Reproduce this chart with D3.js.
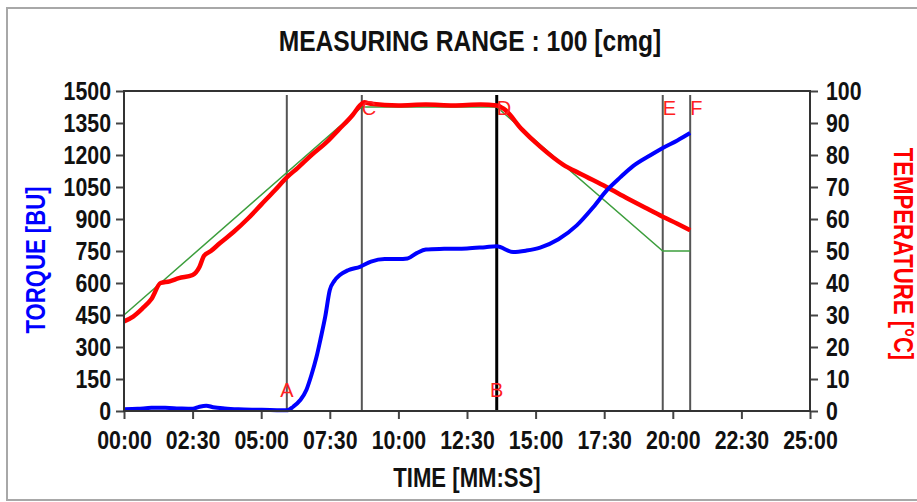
<!DOCTYPE html>
<html>
<head>
<meta charset="utf-8">
<script src="https://cdn.jsdelivr.net/npm/d3@7"></script>
<style>
  body { margin: 0; background: #fff; }
  svg text { font-family: "Liberation Sans", Arial, sans-serif; }
</style>
</head>
<body>
<div class="chart"></div>
<script>
// Time in seconds
const tempTime = [0, 20, 40, 60, 80, 100, 120, 150, 165, 175, 190, 210, 240, 270, 300, 330, 356, 380, 410, 443, 470, 500, 516, 525, 540, 600, 660, 720, 780, 815, 830, 870, 910, 960, 1000, 1055, 1100, 1140, 1178, 1210, 1238];
const tempValues = [28, 29.5, 32, 35, 40, 40.5, 41.5, 42.5, 45, 48.5, 50, 52.5, 56, 60, 64.5, 69, 73, 76, 80, 84, 88, 92.5, 95.5, 96.5, 96, 95.5, 95.8, 95.5, 95.8, 95.5, 94.5, 88, 82.6, 77, 74, 70, 66.5, 63.5, 60.7, 58.5, 56.5];

const targetTime = [0, 520, 815, 1178, 1238];
const targetValues = [30, 95, 95, 50, 50];

const torqueTime = [0, 30, 60, 90, 120, 150, 165, 180, 195, 220, 250, 280, 320, 356, 370, 385, 399, 410, 421, 430, 440, 450, 460, 472, 490, 516, 540, 570, 600, 620, 640, 660, 700, 750, 790, 815, 851, 880, 910, 950, 990, 1026, 1056, 1085, 1113, 1150, 1178, 1210, 1238];
const torqueValues = [8, 10, 15, 15, 12, 10, 20, 25, 18, 12, 8, 6, 5, 3, 20, 50, 100, 170, 254, 340, 442, 567, 610, 637, 660, 676, 700, 712, 712, 715, 740, 757, 760, 762, 768, 772, 745, 752, 766, 805, 870, 955, 1035, 1095, 1148, 1198, 1233, 1268, 1303];

const markerNames = ["A", "C", "B", "E", "F"];
const markerTimes = [356, 520, 815, 1178, 1238];
const topLabels = ["C", "D", "E", "F"];
const topLabelTimes = [520, 815, 1178, 1238];
const bottomLabels = ["A", "B"];
const bottomLabelTimes = [356, 815];

const timeTicks = d3.range(0, 1501, 150);
const torqueTicks = d3.range(0, 1501, 150);
const tempTicks = d3.range(0, 101, 10);

const width = 917, height = 502;
const margin = { top: 91, right: 107, bottom: 91, left: 124 };
const innerW = width - margin.left - margin.right;
const innerH = height - margin.top - margin.bottom;
const narrow = 0.82; // the original uses a condensed bold face

const svg = d3.select(".chart").append("svg")
  .attr("width", width)
  .attr("height", height);

// outer frame
svg.append("rect")
  .attr("x", 7).attr("y", 8)
  .attr("width", 930).attr("height", 492)
  .attr("fill", "none")
  .attr("stroke", "#a8a8a8")
  .attr("stroke-width", 2);

svg.append("text")
  .attr("transform", `translate(470,51) scale(${narrow},1)`)
  .attr("text-anchor", "middle")
  .style("font-size", "30px")
  .style("font-weight", "bold")
  .attr("fill", "#111")
  .text("MEASURING RANGE : 100 [cmg]");

const g = svg.append("g")
  .attr("transform", `translate(${margin.left},${margin.top})`);

const x = d3.scaleLinear().domain([0, 1500]).range([0, innerW]);
const yT = d3.scaleLinear().domain([0, 1500]).range([innerH, 0]);
const yC = d3.scaleLinear().domain([0, 100]).range([innerH, 0]);

const fmt = s => d3.format("02d")(Math.floor(s / 60)) + ":" + d3.format("02d")(s % 60);

const xAxis = g.append("g")
  .attr("transform", `translate(0,${innerH})`)
  .call(d3.axisBottom(x).tickValues(timeTicks).tickFormat(fmt).tickSize(8).tickSizeOuter(0));
const yAxisL = g.append("g")
  .call(d3.axisLeft(yT).tickValues(torqueTicks).tickFormat(d3.format("d")).tickSize(8).tickSizeOuter(0));
const yAxisR = g.append("g")
  .attr("transform", `translate(${innerW},0)`)
  .call(d3.axisRight(yC).tickValues(tempTicks).tickFormat(d3.format("d")).tickSize(8).tickSizeOuter(0));

[xAxis, yAxisL, yAxisR].forEach(a => {
  a.select(".domain").remove();
  a.selectAll(".tick line").attr("stroke", "#444").attr("stroke-width", 2);
  a.selectAll(".tick text")
    .style("font-size", "26px")
    .style("font-weight", "bold")
    .attr("fill", "#111")
    .attr("transform", `scale(${narrow},1)`);
});
xAxis.selectAll(".tick text").attr("dy", "0.72em").attr("y", 19);
yAxisL.selectAll(".tick text").attr("x", -13 / narrow);
yAxisR.selectAll(".tick text").attr("x", 16 / narrow);

// marker lines
g.selectAll(".marker")
  .data(markerTimes)
  .enter().append("line")
  .attr("x1", d => x(d)).attr("x2", d => x(d))
  .attr("y1", 4).attr("y2", innerH)
  .attr("stroke", (d, i) => markerNames[i] === "B" ? "#000" : "#555")
  .attr("stroke-width", (d, i) => markerNames[i] === "B" ? 3 : 2);

g.append("path")
  .attr("d", d3.line().x(d => x(d[0])).y(d => yC(d[1]))(d3.zip(targetTime, targetValues)))
  .attr("fill", "none").attr("stroke", "#3d9e3d").attr("stroke-width", 1.5);

g.append("path")
  .attr("d", d3.line().curve(d3.curveMonotoneX).x(d => x(d[0])).y(d => yC(d[1]))(d3.zip(tempTime, tempValues)))
  .attr("fill", "none").attr("stroke", "#ff0000").attr("stroke-width", 4.5);

g.append("path")
  .attr("d", d3.line().curve(d3.curveMonotoneX).x(d => x(d[0])).y(d => yT(d[1]))(d3.zip(torqueTime, torqueValues)))
  .attr("fill", "none").attr("stroke", "#0000ff").attr("stroke-width", 4);

// plot frame
g.append("rect")
  .attr("width", innerW).attr("height", innerH)
  .attr("fill", "none").attr("stroke", "#333").attr("stroke-width", 2);

// marker labels
g.selectAll(".tlabel")
  .data(topLabelTimes)
  .enter().append("text")
  .attr("x", d => x(d))
  .attr("y", 24)
  .attr("fill", "#ff2020")
  .style("font-size", "20px")
  .text((d, i) => topLabels[i]);
g.selectAll(".blabel")
  .data(bottomLabelTimes)
  .enter().append("text")
  .attr("x", d => x(d))
  .attr("y", innerH - 14)
  .attr("text-anchor", "middle")
  .attr("fill", "#ff2020")
  .style("font-size", "20px")
  .text((d, i) => bottomLabels[i]);

svg.append("text")
  .attr("transform", `translate(45,260) rotate(-90) scale(${narrow},1)`)
  .attr("text-anchor", "middle")
  .style("font-size", "27px").style("font-weight", "bold")
  .attr("fill", "#0000ff")
  .text("TORQUE  [BU]");

svg.append("text")
  .attr("transform", `translate(894,254) rotate(90) scale(${narrow},1)`)
  .attr("text-anchor", "middle")
  .style("font-size", "27px").style("font-weight", "bold")
  .attr("fill", "#ff0000")
  .text("TEMPERATURE  [°C]");

svg.append("text")
  .attr("transform", `translate(467,487) scale(${narrow},1)`)
  .attr("text-anchor", "middle")
  .style("font-size", "27px").style("font-weight", "bold")
  .attr("fill", "#111")
  .text("TIME  [MM:SS]");
</script>
</body>
</html>
